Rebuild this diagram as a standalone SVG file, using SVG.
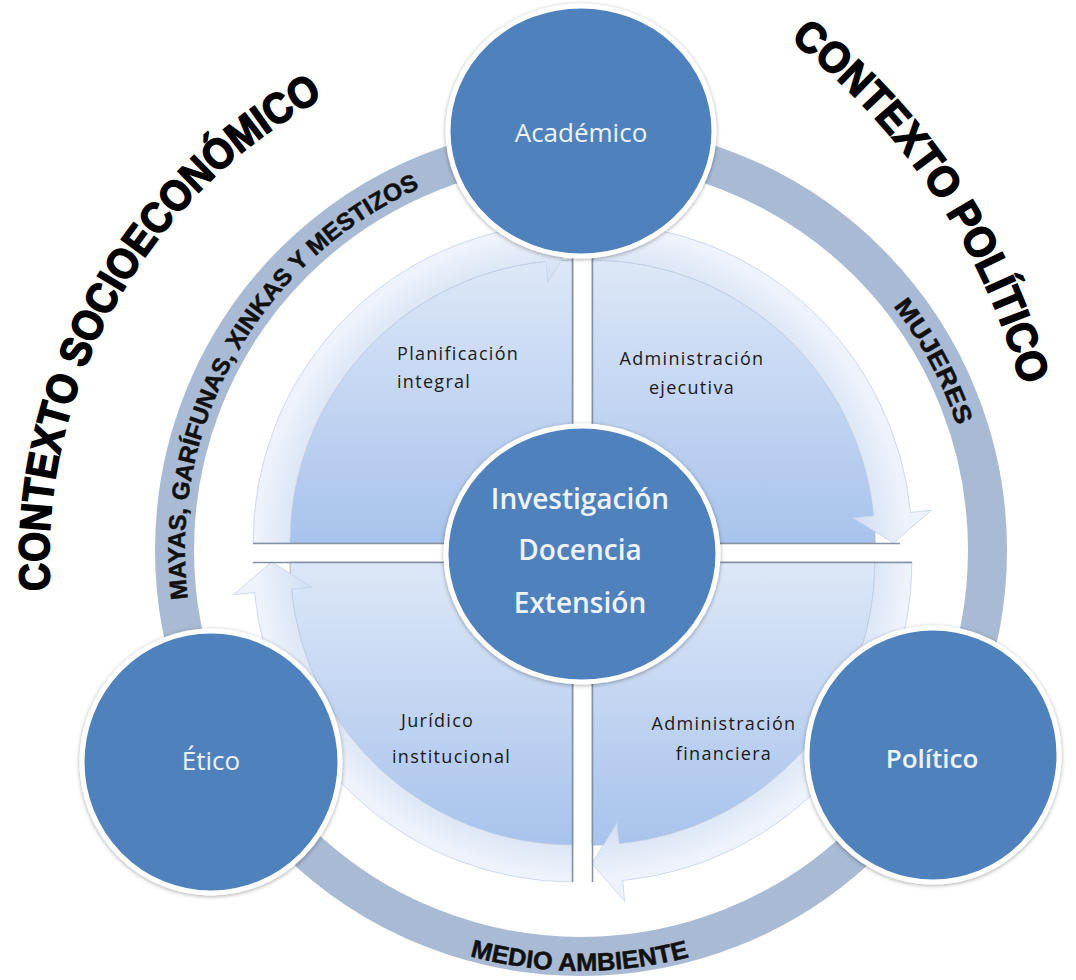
<svg xmlns="http://www.w3.org/2000/svg" xmlns:xlink="http://www.w3.org/1999/xlink" width="1076" height="980" viewBox="0 0 1076 980">
<defs>
<style>
.circ{fill:#4f81bd;stroke:#ffffff;stroke-width:5;filter:url(#sh)}
.ctext{font-family:"Open Sans","Liberation Sans",sans-serif;fill:#eef3fb;font-size:26px;text-anchor:middle}
.qtext{font-family:"Open Sans","Liberation Sans",sans-serif;font-size:18px;fill:#1a1a1a;letter-spacing:1.3px}
.ringt{font-family:"Liberation Sans",Arial,sans-serif;font-weight:bold;font-size:24px;fill:#111;stroke:#111;stroke-width:0.5}
.ctx{font-family:"Liberation Sans",Arial,sans-serif;font-weight:bold;font-size:43px;fill:#000;stroke:#000;stroke-width:1.6}
.band{fill:url(#bandg);stroke:#c3d1e8;stroke-width:0.8}
.edge{stroke:#8391a7;stroke-width:1.5;fill:none}
</style>
<filter id="sh" x="-10%" y="-10%" width="120%" height="120%">
<feDropShadow dx="0" dy="1" stdDeviation="2" flood-color="#000" flood-opacity="0.35"/>
</filter>
<radialGradient id="bandg" gradientUnits="userSpaceOnUse" cx="582" cy="552" r="340">
<stop offset="0.82" stop-color="#d4e0f3"/>
<stop offset="0.96" stop-color="#eef3fb"/>
</radialGradient>
<linearGradient id="gTop" gradientUnits="userSpaceOnUse" x1="0" y1="260" x2="0" y2="543">
<stop offset="0" stop-color="#dde7f7"/>
<stop offset="1" stop-color="#a8c3ec"/>
</linearGradient>
<linearGradient id="gBot" gradientUnits="userSpaceOnUse" x1="0" y1="562" x2="0" y2="845">
<stop offset="0" stop-color="#dde7f7"/>
<stop offset="1" stop-color="#a8c3ec"/>
</linearGradient>
<path id="pSocio" d="M49.9,590.3 A526,526 0 0 1 324,97.7"/>
<path id="pPol" d="M790,40 A655,655 0 0 1 1022,388"/>
<path id="pMayas" d="M188,598.9 A396,396 0 0 1 415.5,190.2"/>
<path id="pMuj" d="M893.1,306.2 A396,396 0 0 1 959.7,434.2"/>
<path id="pMedio" d="M469.9,956.1 A421,421 0 0 0 692.1,956.1"/>
</defs>
<rect width="1076" height="980" fill="#ffffff"/>

<g id="outer-ring">
<circle cx="581" cy="550" r="406.5" fill="none" stroke="#a9bad4" stroke-width="39"/>
<text class="ringt"><textPath href="#pMayas" textLength="505" lengthAdjust="spacingAndGlyphs">MAYAS, GARÍFUNAS, XINKAS Y MESTIZOS</textPath></text>
<text class="ringt" style="font-size:25px"><textPath href="#pMuj" textLength="136" lengthAdjust="spacingAndGlyphs">MUJERES</textPath></text>
<text class="ringt" style="font-size:25px"><textPath href="#pMedio" textLength="222" lengthAdjust="spacingAndGlyphs">MEDIO AMBIENTE</textPath></text>
</g>

<g id="contexts">
<text class="ctx"><textPath href="#pSocio" textLength="594" lengthAdjust="spacingAndGlyphs">CONTEXTO SOCIOECONÓMICO</textPath></text>
<text class="ctx"><textPath href="#pPol" textLength="423" lengthAdjust="spacingAndGlyphs">CONTEXTO POLÍTICO</textPath></text>
</g>

<g id="q-planificacion">
<path d="M573,543 L290,543 A283,283 0 0 1 573,260 Z" fill="url(#gTop)" stroke="#a9b8d0" stroke-width="1"/>
<path class="band" d="M253,543 A320,320 0 0 1 542.33,224.47 L540.32,203.57 L573,241.5 L547.89,282.21 L545.87,261.3 A283,283 0 0 0 290,543 Z"/>
<path class="edge" d="M253,543.5 H573 M572.5,223 V543"/>
<text class="qtext" x="397" y="360">Planificación</text>
<text class="qtext" x="397" y="388">integral</text>
</g>

<g id="q-ejecutiva">
<path d="M592,543 L592,260 A283,283 0 0 1 875,543 Z" fill="url(#gTop)" stroke="#a9b8d0" stroke-width="1"/>
<path class="band" d="M592,223 A320,320 0 0 1 910.53,512.33 L931.43,510.32 L893.5,543 L852.79,517.89 L873.7,515.87 A283,283 0 0 0 592,260 Z"/>
<path class="edge" d="M592.5,223 V543 M592,543.5 H900"/>
<text class="qtext" x="692" y="365" text-anchor="middle">Administración</text>
<text class="qtext" x="692" y="394" text-anchor="middle">ejecutiva</text>
</g>

<g id="q-financiera">
<path d="M592,562 L875,562 A283,283 0 0 1 592,845 Z" fill="url(#gBot)" stroke="#a9b8d0" stroke-width="1"/>
<path class="band" d="M912,562 A320,320 0 0 1 622.67,880.53 L624.68,901.43 L592,863.5 L617.11,822.79 L619.13,843.7 A283,283 0 0 0 875,562 Z"/>
<path class="edge" d="M592,562.5 H912 M592.5,562 V882"/>
<text class="qtext" x="724" y="730" text-anchor="middle">Administración</text>
<text class="qtext" x="724" y="760" text-anchor="middle">financiera</text>
</g>

<g id="q-juridico">
<path d="M573,562 L573,845 A283,283 0 0 1 290,562 Z" fill="url(#gBot)" stroke="#a9b8d0" stroke-width="1"/>
<path class="band" d="M573,882 A320,320 0 0 1 254.47,592.67 L233.57,594.68 L271.5,562 L312.21,587.11 L291.3,589.13 A283,283 0 0 0 573,845 Z"/>
<path class="edge" d="M253,562.5 H573 M572.5,562 V882"/>
<text class="qtext" x="401" y="727">Jurídico</text>
<text class="qtext" x="392" y="763">institucional</text>
</g>

<g id="n-academico">
<ellipse class="circ" cx="581" cy="131" rx="133" ry="125"/>
<text class="ctext" x="581" y="142">Académico</text>
</g>

<g id="n-etico">
<ellipse class="circ" cx="211" cy="762" rx="129" ry="131"/>
<text class="ctext" x="211" y="770">Ético</text>
</g>

<g id="n-politico">
<ellipse class="circ" cx="933" cy="755" rx="126" ry="127"/>
<text class="ctext" x="932" y="768" style="font-weight:600">Político</text>
</g>

<g id="n-centro">
<ellipse class="circ" cx="582" cy="554" rx="136" ry="128"/>
<text class="ctext" x="580" y="509" style="font-weight:600;font-size:28px">Investigación</text>
<text class="ctext" x="580" y="560" style="font-weight:600;font-size:28px">Docencia</text>
<text class="ctext" x="580" y="613" style="font-weight:600;font-size:28px">Extensión</text>
</g>
</svg>
